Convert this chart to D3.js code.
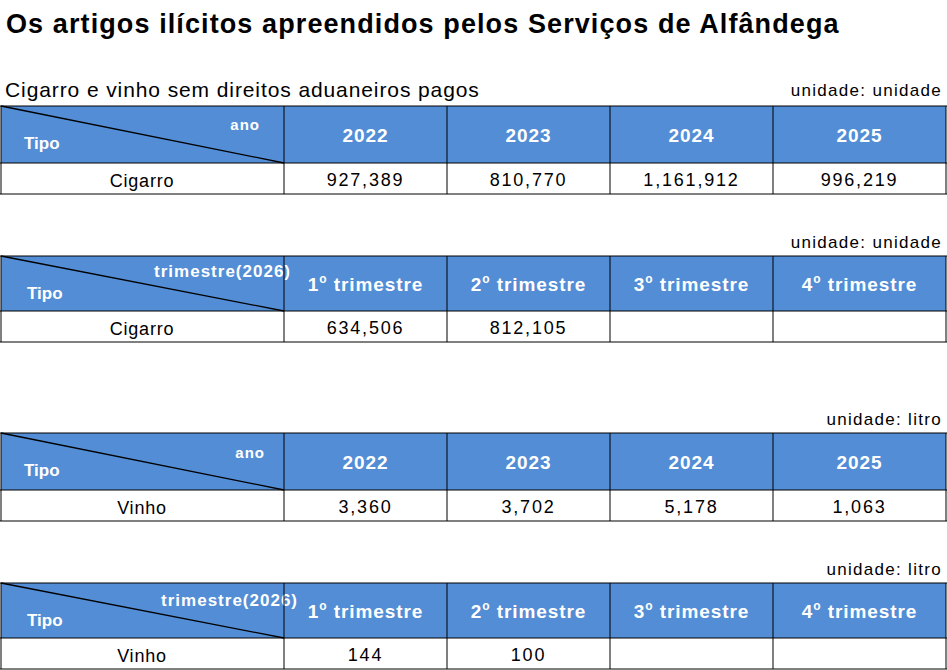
<!DOCTYPE html>
<html><head><meta charset="utf-8">
<script src="https://cdn.jsdelivr.net/npm/d3@7"></script>
<style>body{margin:0;background:#fff}text{font-family:"Liberation Sans",Arial,sans-serif}</style>
</head><body><svg id="c" width="947" height="670"></svg>
<script>
const title = "Os artigos ilícitos apreendidos pelos Serviços de Alfândega";
const subtitle = "Cigarro e vinho sem direitos aduaneiros pagos";
const years = ["2022","2023","2024","2025"];
const quarters = ["1","2","3","4"];
const cigarroAnual = [927389, 810770, 1161912, 996219];
const cigarroTrim = [634506, 812105, null, null];
const vinhoAnual = [3360, 3702, 5178, 1063];
const vinhoTrim = [144, 100, null, null];
const units = ["unidade: unidade","unidade: unidade","unidade: litro","unidade: litro"];

const svg = d3.select("#c");
const fmt = d3.format(",");
svg.append("text").attr("x",6).attr("y",33).attr("font-size",27).attr("letter-spacing",1.1).attr("font-weight","bold").text(title);
svg.append("text").attr("x",5).attr("y",97).attr("font-size",21).attr("letter-spacing",0.9).text(subtitle);

const colEdges = [1,284,447,610,773,946];
const tables = [
  {top:106,hb:163,bot:194,unitY:96,corner:"ano",cornerX:260,cornerY:130,tipoY:149,cols:years,tipo:"Cigarro",vals:cigarroAnual,quarter:false},
  {top:256,hb:311,bot:342,unitY:248,corner:"trimestre(2026)",cornerX:291,cornerY:277,tipoY:299,cols:quarters,tipo:"Cigarro",vals:cigarroTrim,quarter:true},
  {top:433,hb:490,bot:521,unitY:425,corner:"ano",cornerX:265,cornerY:458,tipoY:476,cols:years,tipo:"Vinho",vals:vinhoAnual,quarter:false},
  {top:583,hb:638,bot:669,unitY:575,corner:"trimestre(2026)",cornerX:298,cornerY:606,tipoY:626,cols:quarters,tipo:"Vinho",vals:vinhoTrim,quarter:true}
];
tables.forEach((t,i)=>{
  const g = svg.append("g");
  g.append("text").attr("x",942).attr("y",t.unitY).attr("text-anchor","end").attr("font-size",17).attr("letter-spacing",1.3).text(units[i]);
  g.append("rect").attr("x",1).attr("y",t.top).attr("width",945).attr("height",t.hb-t.top).attr("fill","#538dd5");
  g.append("line").attr("x1",1).attr("y1",t.top).attr("x2",284).attr("y2",t.hb).attr("stroke","#000").attr("stroke-width",1.3);
  g.append("text").attr("x",t.cornerX).attr("y",t.cornerY).attr("text-anchor","end").attr("font-size",t.quarter?17:15).attr("letter-spacing",1).attr("font-weight","bold").attr("fill","#fff").text(t.corner);
  g.append("text").attr("x",t.quarter?27:24).attr("y",t.tipoY).attr("font-size",17).attr("font-weight","bold").attr("fill","#fff").text("Tipo");
  const hy = (t.top+t.hb)/2+7;
  t.cols.forEach((c,j)=>{
    const cx=(colEdges[j+1]+colEdges[j+2])/2;
    const tx=g.append("text").attr("x",cx).attr("y",hy).attr("text-anchor","middle").attr("font-size",19).attr("letter-spacing",0.9).attr("font-weight","bold").attr("fill","#fff");
    if(t.quarter){tx.append("tspan").text(c);tx.append("tspan").attr("dy",-8).attr("font-size",12).text("o");tx.append("tspan").attr("dy",8).text(" trimestre");}
    else tx.text(c);
    if(t.vals[j]!=null) g.append("text").attr("x",cx).attr("y",t.bot-8).attr("text-anchor","middle").attr("font-size",18).attr("letter-spacing",1.8).text(fmt(t.vals[j]));
  });
  g.append("text").attr("x",142).attr("y",t.bot-7).attr("text-anchor","middle").attr("font-size",18).attr("letter-spacing",0.8).text(t.tipo);
  [t.top,t.hb,t.bot].forEach(y=>g.append("line").attr("x1",0).attr("x2",947).attr("y1",y).attr("y2",y).attr("stroke","#000"));
  colEdges.forEach(x=>g.append("line").attr("x1",x).attr("x2",x).attr("y1",t.top).attr("y2",t.bot).attr("stroke","#000"));
});
</script></body></html>
